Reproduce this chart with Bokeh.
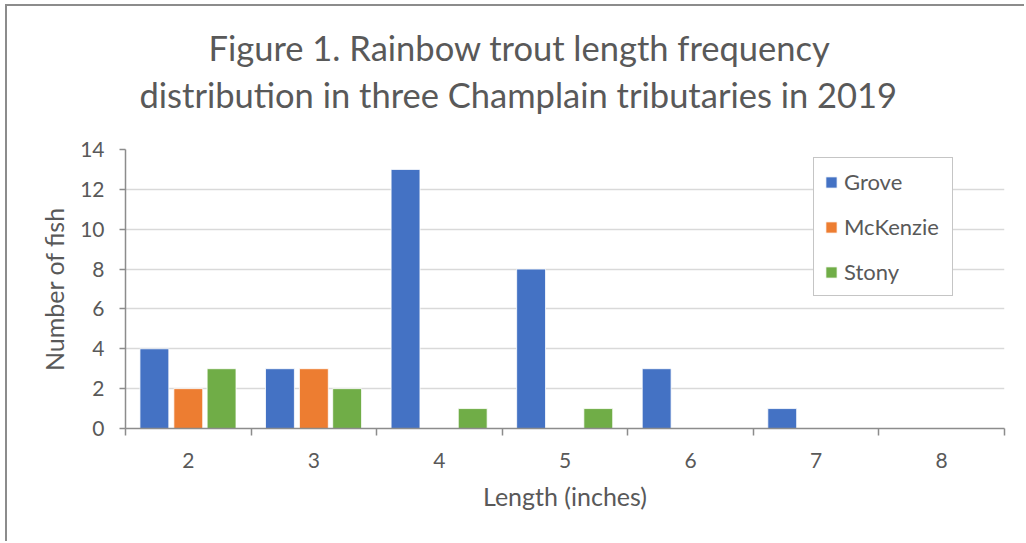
from bokeh.plotting import figure
from bokeh.models import FixedTicker, Title, Legend, LegendItem, ColumnDataSource
from bokeh.transform import dodge
from bokeh.embed import file_html
from bokeh.resources import INLINE

lengths = [2, 3, 4, 5, 6, 7, 8]
grove = [4, 3, 13, 8, 3, 1, 0]
mckenzie = [2, 3, 0, 0, 0, 0, 0]
stony = [3, 2, 1, 1, 0, 0, 0]
series_names = ["Grove", "McKenzie", "Stony"]
colors = ["#4472C4", "#ED7D31", "#70AD47"]
y_ticks = [0, 2, 4, 6, 8, 10, 12, 14]
title_lines = ["Figure 1. Rainbow trout length frequency",
               "distribution in three Champlain tributaries in 2019"]

FONT = "Lato"
TXT = "#595959"

src = ColumnDataSource(dict(x=lengths, Grove=grove, McKenzie=mckenzie, Stony=stony))

p = figure(width=1019, height=537, output_backend="svg", toolbar_location=None,
           x_range=(min(lengths) - 0.5, max(lengths) + 0.5), y_range=(0, 14),
           min_border_left=118, min_border_right=22, min_border_top=143, min_border_bottom=115)
p.margin = (4, 0, 0, 5)
p.outline_line_color = None
p.background_fill_color = "white"
p.border_fill_color = "white"
p.styles = {"border-left": "2px solid #8c8c8c", "border-top": "2px solid #8c8c8c"}

offsets = [-0.27, 0.0, 0.265]
items = []
for name, col, off in zip(series_names, colors, offsets):
    r = p.vbar(x=dodge("x", off), top=name, width=0.23, source=src,
               fill_color=col, line_color="white", line_width=0.8)
    items.append(LegendItem(label=name, renderers=[r]))

legend = Legend(items=items, location=(688, 132), orientation="vertical",
                label_text_font=FONT, label_text_font_size="22px", label_text_color=TXT,
                glyph_width=14, glyph_height=14, label_height=20, label_width=98,
                spacing=18, padding=10, label_standoff=6, margin=0,
                border_line_color="#8c8c8c", border_line_width=1.5,
                background_fill_color="white", background_fill_alpha=1.0)
p.add_layout(legend, "center")

# Title: a blank spacer next to the frame, then the two title lines
spacer = Title(text=" ", text_font_size="1px", standoff=28)
t2 = Title(text=title_lines[1], align="left",
           text_font=FONT, text_font_size="34.5px", text_font_style="normal",
           text_color=TXT, offset=14, standoff=8)
t1 = Title(text=title_lines[0], align="left",
           text_font=FONT, text_font_size="34.5px", text_font_style="normal",
           text_color=TXT, offset=83, standoff=0)
p.add_layout(spacer, "above")
p.add_layout(t2, "above")
p.add_layout(t1, "above")

# x axis
xa = p.xaxis[0]
xa.ticker = FixedTicker(ticks=lengths, minor_ticks=[v - 0.5 for v in lengths] + [max(lengths) + 0.5])
xa.major_tick_out = 0
xa.major_tick_in = 0
xa.minor_tick_out = 7
xa.minor_tick_in = 0
xa.minor_tick_line_color = "#8c8c8c"
xa.minor_tick_line_width = 1.5
xa.axis_line_color = "#8c8c8c"
xa.axis_line_width = 1.5
xa.major_label_text_font = FONT
xa.major_label_text_font_size = "21px"
xa.major_label_text_color = TXT
xa.major_label_standoff = 17
xa.axis_label = "Length (inches)"
xa.axis_label_text_font = FONT
xa.axis_label_text_font_size = "25px"
xa.axis_label_text_font_style = "normal"
xa.axis_label_text_color = TXT
xa.axis_label_standoff = 10

# y axis
ya = p.yaxis[0]
ya.ticker = FixedTicker(ticks=y_ticks)
ya.minor_tick_line_color = None
ya.major_tick_out = 6
ya.major_tick_in = 0
ya.major_tick_line_color = "#8c8c8c"
ya.major_tick_line_width = 1.5
ya.axis_line_color = "#8c8c8c"
ya.axis_line_width = 1.5
ya.major_label_text_font = FONT
ya.major_label_text_font_size = "21px"
ya.major_label_text_color = TXT
ya.major_label_standoff = 15
ya.axis_label = "Number of fish"
ya.axis_label_text_font = FONT
ya.axis_label_text_font_size = "25px"
ya.axis_label_text_font_style = "normal"
ya.axis_label_text_color = TXT
ya.axis_label_standoff = 8

p.xgrid.grid_line_color = None
p.ygrid.grid_line_color = "#d9d9d9"
p.ygrid.grid_line_width = 1.5

open("out.html", "w").write(file_html(p, INLINE))
